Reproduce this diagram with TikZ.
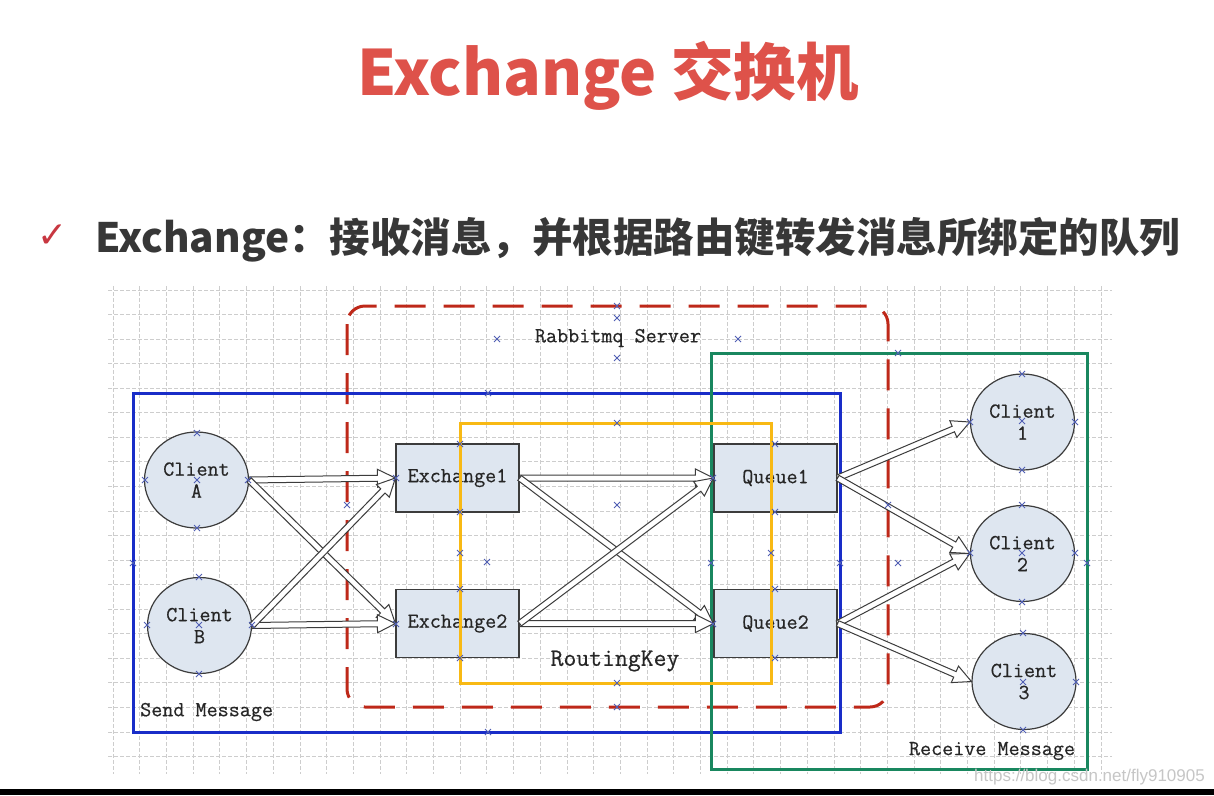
\documentclass[tikz,border=0pt]{standalone}
\usepackage{fontspec}
\usetikzlibrary{calc,shapes.geometric}
\newfontfamily\cjk{Noto Sans CJK SC}
\newfontfamily\djv{DejaVu Sans}
\newfontfamily\wmfont{Liberation Sans}
\newfontfamily\monob[FakeBold=0.5]{Latin Modern Mono}
\definecolor{titlered}{RGB}{222,82,74}
\definecolor{subgray}{RGB}{55,55,55}
\definecolor{checkred}{RGB}{200,55,65}
\definecolor{gridgray}{RGB}{205,205,205}
\definecolor{srvred}{RGB}{190,40,25}
\definecolor{sendblue}{RGB}{25,45,200}
\definecolor{rkyellow}{RGB}{248,185,20}
\definecolor{rcvgreen}{RGB}{25,135,95}
\definecolor{nodefill}{RGB}{222,230,240}
\definecolor{nodeline}{RGB}{60,60,60}
\definecolor{mkblue}{RGB}{80,95,180}
\tikzset{
  lbl/.style={font=\monob\fontsize{21.5}{22}\selectfont, text=black!85, inner sep=0pt},
  clientnode/.style={ellipse, draw=nodeline, line width=1.2pt, fill=nodefill,
    minimum width=104pt, minimum height=96pt, inner sep=0pt, align=center, lbl},
  boxnode/.style={rectangle, draw=nodeline, line width=1.2pt, fill=nodefill,
    minimum width=123pt, minimum height=68pt, inner sep=0pt, lbl},
  harrowpath/.style={draw=nodeline, fill=white, line width=1pt, line join=miter},
  gridline/.style={draw=gridgray, line width=0.8pt, dash pattern=on 4pt off 2pt},
  regionline/.style={line width=3pt},
  mk/.style={draw=mkblue, line width=0.8pt},
}
\newcommand\harrow[2]{%
  \draw[harrowpath]
   ($(#1)!3pt!90:(#2)$) --
   ($(#2)!18pt!(#1)!3pt!90:(#2)$) --
   ($(#2)!18pt!(#1)!9pt!90:(#2)$) --
   (#2) --
   ($(#2)!18pt!(#1)!9pt!-90:(#2)$) --
   ($(#2)!18pt!(#1)!3pt!-90:(#2)$) --
   ($(#1)!3pt!-90:(#2)$) -- cycle;}
\begin{document}
\begin{tikzpicture}[x=1pt,y=-1pt]
\fill[white] (0,0) rectangle (1214,795);
\useasboundingbox (0,0) rectangle (1214,795);

% title
\node[font=\cjk\bfseries\fontsize{62.5}{70}\selectfont, text=titlered, anchor=base, inner sep=0pt] (title) at (608,95) {Exchange 交换机};
% subtitle
\node[font=\djv\fontsize{36}{38}\selectfont, text=checkred, anchor=base, inner sep=0pt] (chk) at (53,247) {✓};
\node[font=\cjk\bfseries\fontsize{40.5}{44}\selectfont, text=subgray, anchor=base west, inner sep=0pt] (sub) at (95,252) {Exchange：接收消息，并根据路由键转发消息所绑定的队列};

% grid
\foreach \k in {0,...,37} \draw[gridline] ({113+26.7*\k},286) -- ({113+26.7*\k},774);
\foreach \k in {0,...,19} \draw[gridline] (108,{290+24.55*\k}) -- (1112,{290+24.55*\k});

% regions
\draw[regionline, srvred, dash pattern=on 31pt off 18pt, rounded corners=18pt] (347,306) rectangle (888,707);
\draw[regionline, sendblue] (133,393) rectangle (840,732);
\draw[regionline, rcvgreen] (711,353) rectangle (1087,769);

% nodes
\node[clientnode] (ca) at (196.5,480) {Client\\A};
\node[clientnode] (cb) at (199.5,625.5) {Client\\B};
\node[boxnode] (e1) at (457.5,478) {Exchange1};
\node[boxnode] (e2) at (457.5,623.5) {Exchange2};
\node[boxnode] (q1) at (775.5,478) {Queue1};
\node[boxnode] (q2) at (775.5,623.5) {Queue2};
\node[clientnode] (c1) at (1022.5,422) {Client\\1};
\node[clientnode] (c2) at (1022.5,553.5) {Client\\2};
\node[clientnode] (c3) at (1024,681.5) {Client\\3};

% arrows
\harrow{ca.east}{e1.west}
\harrow{ca.east}{e2.west}
\harrow{cb.east}{e2.west}
\harrow{cb.east}{e1.west}
\harrow{e1.east}{q1.west}
\harrow{e1.east}{q2.west}
\harrow{e2.east}{q2.west}
\harrow{e2.east}{q1.west}
\harrow{q1.east}{c1.west}
\harrow{q1.east}{c2.west}
\harrow{q2.east}{c2.west}
\harrow{q2.east}{c3.west}

% yellow routing region on top
\draw[regionline, rkyellow] (460,423) rectangle (771,683);

% labels
\node[lbl] (srv) at (618,338) {Rabbitmq Server};
\node[lbl, anchor=west] (send) at (140,712) {Send Message};
\node[lbl, font=\monob\fontsize{25}{26}\selectfont] (rk) at (615,661) {RoutingKey};
\node[lbl] (recv) at (992,751) {Receive Message};

% connection markers
\foreach \x/\y in {197/433,197/528,145/480,248/480,197/480,
  199/577,199/674,147/625,252/625,199/625,
  1022/374,1022/470,970/422,1075/422,1022/421,
  1022/505,1022/602,970/553,1075/553,1022/553,
  1023/633,1023/730,1076/682,1023/682,
  396/478,460/444,460/512,396/624,460/589,460/658,
  713/478,775/444,775/512,713/624,775/589,775/658,
  488/393,488/732,133/563,840/563,
  617/423,617/683,460/553,771/553,
  898/353,711/563,1087/563,898/563,
  617/306,617/707,347/505,888/505,
  497/339,738/339,617/318,617/358,617/505,487/562}
  \draw[mk] (\x-3,\y-3) -- (\x+3,\y+3) (\x-3,\y+3) -- (\x+3,\y-3);

% watermark and bottom bar
\node[font=\wmfont\fontsize{17}{18}\selectfont, text=gray!45, anchor=east, inner sep=0pt] (wm) at (1205,777) {https://blog.csdn.net/fly910905};
\fill[black] (0,789) rectangle (1214,795);
\end{tikzpicture}
\end{document}
